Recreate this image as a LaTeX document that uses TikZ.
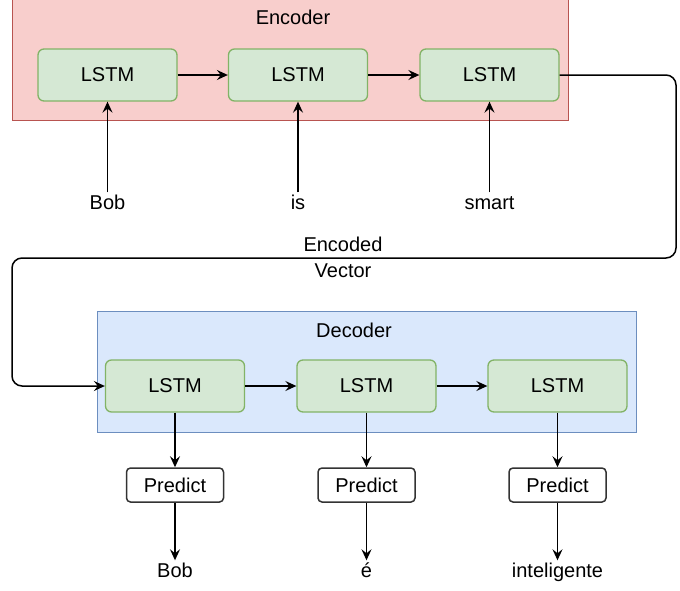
\documentclass[tikz,border=0pt]{standalone}
\usepackage{fontspec}
\setmainfont{Liberation Sans}
\usetikzlibrary{arrows.meta}
\definecolor{encfill}{HTML}{F8CECC}
\definecolor{encline}{HTML}{B85450}
\definecolor{decfill}{HTML}{DAE8FC}
\definecolor{decline}{HTML}{6C8EBF}
\definecolor{lstmfill}{HTML}{D5E8D4}
\definecolor{lstmline}{HTML}{82B366}
\tikzset{
  encbox/.style={draw=encline, fill=encfill, line width=1pt},
  decbox/.style={draw=decline, fill=decfill, line width=1pt},
  lstm/.style={draw=lstmline, fill=lstmfill, rounded corners=6pt, line width=1.3pt,
    minimum width=139pt, minimum height=52pt},
  predict/.style={draw=black!80, fill=white, rounded corners=4pt, line width=1.5pt,
    minimum width=97pt, minimum height=34pt},
  word/.style={inner sep=2pt, text height=15pt, text depth=4pt},
  flow/.style={-{Stealth[length=11pt,width=10pt,inset=4pt]}, line width=1.5pt},
}
\begin{document}
\begin{tikzpicture}[x=1pt, y=-1pt, font=\fontsize{20}{24}\selectfont]
    \useasboundingbox (0,0) rectangle (680,590);
    % containers
    \node[encbox, minimum width=556pt, minimum height=121pt] (encoder) at (290,60) {};
    \node (enctitle) at (293,17) {Encoder};
    \node[decbox, minimum width=539pt, minimum height=121pt] (decoder) at (366.5,371.5) {};
    \node (dectitle) at (354,330) {Decoder};
    % encoder
    \foreach \i/\x/\w in {1/107.5/Bob, 2/298/is, 3/489.5/smart}{
        \node[lstm] (e\i) at (\x,75) {LSTM};
        \node[word] (in\i) at (\x,204) {\w};
        \draw[flow] (in\i) -- (e\i);
        };
    % decoder
    \foreach \i/\x/\w in {1/175/Bob, 2/366.5/é, 3/557.5/inteligente}{
        \node[lstm] (d\i) at (\x,386) {LSTM};
        \node[predict] (p\i) at (\x,485) {Predict};
        \node[word] (out\i) at (\x,572) {\w};
        \draw[flow] (d\i) -- (p\i);
        \draw[flow] (p\i) -- (out\i);
        };
    \foreach \a/\b in {e1/e2, e2/e3, d1/d2, d2/d3}{
        \draw[flow] (\a) -- (\b);
        };
    % encoded vector
    \coordinate (bendR) at (676,258);
    \coordinate (bendL) at (12,258);
    \draw[flow, rounded corners=10pt] (e3.east) -| (bendR) -- (bendL) |- (d1.west);
    \node[align=center, font=\fontsize{20}{26}\selectfont] (vec) at (343,257) {Encoded\\Vector};
\end{tikzpicture}
\end{document}
